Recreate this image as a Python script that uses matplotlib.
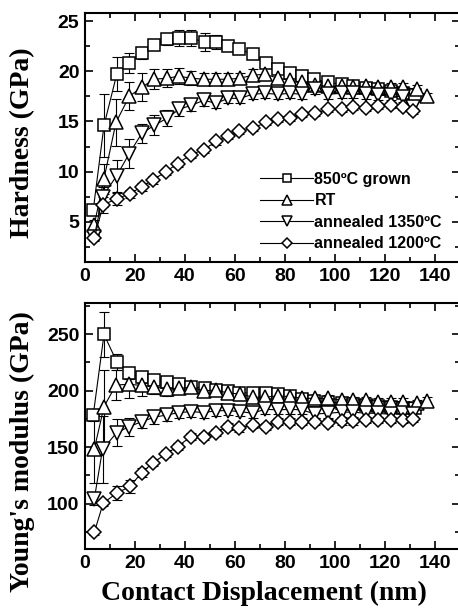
import matplotlib
matplotlib.use("Agg")
import matplotlib.pyplot as plt
from matplotlib.ticker import MultipleLocator

# Contact displacement (nm) for each sample
depth_grown = [3.3, 7.6, 12.7, 17.7, 22.7, 27.6, 32.7, 37.6, 42.4, 48.0, 52.4, 57.3, 61.7, 67.0,
               72.3, 77.3, 82.0, 86.7, 91.6, 97.3, 102.7, 107.3, 112.4, 117.3, 122.3, 127.3, 132.0]
depth_rt = [3.7, 7.6, 12.4, 17.7, 22.7, 27.6, 32.7, 37.6, 42.4, 47.6, 52.4, 57.3, 62.0, 67.0,
            72.0, 77.3, 82.0, 86.7, 92.0, 97.3, 102.7, 107.3, 112.4, 117.3, 122.3, 127.3, 132.7, 136.7]
depth_1350 = [3.7, 7.0, 12.7, 17.7, 22.7, 27.6, 32.7, 37.6, 42.4, 47.6, 52.4, 57.3, 62.0, 67.0,
              72.0, 77.3, 82.0, 86.7, 92.0, 97.3, 102.7, 107.3, 112.4, 117.3, 122.3, 127.3, 131.0]
depth_1200 = [3.7, 7.3, 12.7, 18.0, 22.7, 27.3, 32.4, 37.0, 42.4, 47.6, 52.4, 57.3, 61.7, 67.0,
              72.3, 77.3, 82.0, 86.7, 92.0, 97.3, 102.7, 107.3, 112.4, 117.3, 122.3, 127.3, 131.3]

# Hardness (GPa) and standard deviations
hard_grown = [6.2, 14.6, 19.7, 20.8, 21.8, 22.6, 23.2, 23.3, 23.3, 22.9, 22.9, 22.5, 22.2, 21.7,
              20.8, 20.2, 19.8, 19.5, 19.2, 18.9, 18.7, 18.5, 18.3, 18.2, 18.0, 17.8, 17.6]
hard_grown_err = [0.5, 3.1, 1.7, 1.0, 0.6, 0.5, 0.6, 0.8, 0.8, 0.9, 0.7, 0.4, 0.4, 0.3,
                  0.4, 0.3, 0.3, 0.3, 0.3, 0.3, 0.3, 0.3, 0.3, 0.3, 0.3, 0.3, 0.3]
hard_rt = [4.7, 9.3, 14.9, 17.5, 18.4, 19.2, 19.3, 19.5, 19.3, 19.2, 19.2, 19.2, 19.3, 19.6,
           19.7, 19.3, 19.1, 18.9, 18.6, 18.5, 18.5, 18.4, 18.5, 18.4, 18.4, 18.4, 18.2, 17.5]
hard_rt_err = [0.5, 1.5, 2.3, 1.4, 1.4, 1.0, 0.9, 0.8, 0.7, 0.6, 0.6, 0.6, 0.5, 0.6,
               0.6, 0.5, 0.5, 0.5, 0.4, 0.4, 0.4, 0.4, 0.4, 0.4, 0.4, 0.4, 0.4, 0.3]
hard_1350 = [3.5, 7.5, 9.6, 11.8, 13.8, 14.6, 15.3, 16.2, 16.6, 17.1, 16.8, 17.3, 17.3, 17.7,
             17.8, 17.7, 17.8, 17.7, 18.2, 17.7, 17.8, 17.8, 17.7, 17.6, 17.6, 17.4, 16.4]
hard_1350_err = [0.3, 1.0, 1.6, 1.4, 0.9, 1.0, 0.8, 0.7, 0.6, 0.6, 0.5, 0.5, 0.5, 0.5,
                 0.5, 0.5, 0.5, 0.5, 0.5, 0.5, 0.5, 0.5, 0.5, 0.5, 0.5, 0.5, 0.4]
hard_1200 = [3.4, 6.7, 7.3, 7.8, 8.5, 9.2, 10.0, 10.8, 11.7, 12.2, 13.0, 13.5, 14.0, 14.3,
             14.9, 15.2, 15.3, 15.7, 15.8, 16.2, 16.2, 16.4, 16.3, 16.5, 16.6, 16.4, 16.0]
hard_1200_err = [0.3, 0.8, 0.6, 0.4, 0.4, 0.4, 0.3, 0.3, 0.3, 0.3, 0.3, 0.3, 0.3, 0.3,
                 0.3, 0.3, 0.3, 0.3, 0.3, 0.3, 0.3, 0.3, 0.3, 0.3, 0.3, 0.3, 0.3]

# Young's modulus (GPa) and standard deviations
mod_grown = [178.5, 249.7, 225.6, 215.3, 211.8, 209.4, 207.9, 205.9, 203.6, 202.1, 200.6, 199.8,
             198.3, 197.7, 198.3, 197.2, 195.0, 193.0, 191.0, 190.0, 189.0, 188.0, 187.0, 186.0,
             185.5, 185.0, 184.4]
mod_grown_err = [5, 20, 7, 5, 5, 4, 4, 4, 4, 3, 3, 3, 3, 3, 3, 3, 3, 3, 3, 3, 3, 3, 3, 3, 3, 3, 3]
mod_rt = [148.2, 185.9, 205.0, 205.6, 204.6, 203.6, 201.2, 202.0, 203.0, 199.8, 200.6, 197.7,
          197.2, 194.2, 194.2, 195.4, 194.7, 193.2, 193.2, 193.2, 191.8, 191.8, 191.8, 190.3,
          190.3, 190.3, 188.9, 191.2]
mod_rt_err = [30, 32, 13, 12, 9, 7, 6, 5, 5, 4, 4, 4, 4, 4, 3, 3, 3, 3, 3, 3, 3, 3, 3, 3, 3, 3, 3, 3]
mod_1350 = [104.0, 148.0, 162.9, 168.2, 172.6, 176.5, 178.5, 180.6, 181.5, 180.6, 182.3, 182.3,
            181.5, 180.0, 183.5, 183.0, 183.5, 183.0, 179.4, 180.0, 181.0, 181.0, 180.0, 180.0,
            179.0, 180.0, 179.0]
mod_1350_err = [5, 30, 12, 8, 6, 6, 5, 5, 5, 5, 5, 4, 4, 4, 4, 4, 4, 4, 4, 4, 4, 4, 4, 4, 4, 4, 4]
mod_1200 = [74.7, 100.6, 109.4, 115.3, 127.6, 136.4, 144.1, 150.6, 159.4, 159.4, 162.9, 168.2,
            166.8, 169.7, 168.2, 172.6, 172.6, 172.6, 172.6, 171.7, 173.0, 173.0, 174.0, 174.0,
            174.0, 174.0, 175.0]
mod_1200_err = [2, 3, 6, 6, 4, 3, 3, 3, 3, 3, 3, 3, 3, 3, 3, 3, 3, 3, 3, 3, 3, 3, 3, 3, 3, 3, 3]

labels = ["850\u00baC grown", "RT", "annealed 1350\u00baC", "annealed 1200\u00baC"]
markers = ["s", "^", "v", "D"]
msizes = [8.0, 9.5, 9.5, 7.5]

hard_sets = [(depth_grown, hard_grown, hard_grown_err),
             (depth_rt, hard_rt, hard_rt_err),
             (depth_1350, hard_1350, hard_1350_err),
             (depth_1200, hard_1200, hard_1200_err)]
mod_sets = [(depth_grown, mod_grown, mod_grown_err),
            (depth_rt, mod_rt, mod_rt_err),
            (depth_1350, mod_1350, mod_1350_err),
            (depth_1200, mod_1200, mod_1200_err)]

label_font = {"family": "Liberation Serif", "weight": "bold", "size": 20}

fig = plt.figure(figsize=(4.58, 6.09), dpi=100)
ax_h = fig.add_axes([0.1856, 0.5698, 0.8188, 0.4089])
ax_e = fig.add_axes([0.1856, 0.0985, 0.8188, 0.4040])


def style_ticklabels(ax):
    for t in ax.get_xticklabels() + ax.get_yticklabels():
        t.set_fontfamily("Liberation Sans")
        t.set_fontweight("bold")
        t.set_fontsize(14)


def draw(ax, sets):
    handles = []
    for (x, y, e), mk, ms, lab in zip(sets, markers, msizes, labels):
        ax.errorbar(x, y, yerr=e, fmt="none", ecolor="black", elinewidth=0.8,
                    capsize=3.6, capthick=0.8, zorder=2)
        h, = ax.plot(x, y, color="black", lw=0.8, marker=mk, markersize=ms,
                     markerfacecolor="white", markeredgecolor="black",
                     markeredgewidth=1.1, label=lab, zorder=3)
        handles.append(h)
    ax.set_xlim(0, 150)
    ax.xaxis.set_major_locator(MultipleLocator(20))
    ax.xaxis.set_minor_locator(MultipleLocator(10))
    ax.tick_params(which="both", direction="in", top=True, right=True, width=1.2)
    ax.tick_params(which="major", length=5.8, pad=4)
    ax.tick_params(which="minor", length=3.6)
    for s in ax.spines.values():
        s.set_linewidth(1.5)
    return handles


hs = draw(ax_h, hard_sets)
ax_h.set_ylim(1.0, 25.8)
ax_h.yaxis.set_major_locator(MultipleLocator(5))
ax_h.yaxis.set_minor_locator(MultipleLocator(2.5))
style_ticklabels(ax_h)
ax_h.set_ylabel("Hardness (GPa)", fontdict=label_font)
ax_h.yaxis.set_label_coords(-0.133, 0.48)
ax_h.legend(handles=hs, loc="lower left", bbox_to_anchor=(0.45, 0.018),
            frameon=False, handlelength=3.3, handletextpad=0.1,
            labelspacing=0.4, markerscale=0.7, borderaxespad=0,
            prop={"family": "Liberation Sans", "weight": "bold", "size": 11.5})

draw(ax_e, mod_sets)
ax_e.set_ylim(60, 277.5)
ax_e.yaxis.set_major_locator(MultipleLocator(50))
ax_e.yaxis.set_minor_locator(MultipleLocator(25))
style_ticklabels(ax_e)
ax_e.set_ylabel("Young's modulus (GPa)", fontdict=label_font)
ax_e.yaxis.set_label_coords(-0.133, 0.398)
ax_e.set_xlabel("Contact Displacement (nm)", fontdict=label_font)
ax_e.xaxis.set_label_coords(0.476, -0.13)

fig.savefig("out.png", dpi=100)
